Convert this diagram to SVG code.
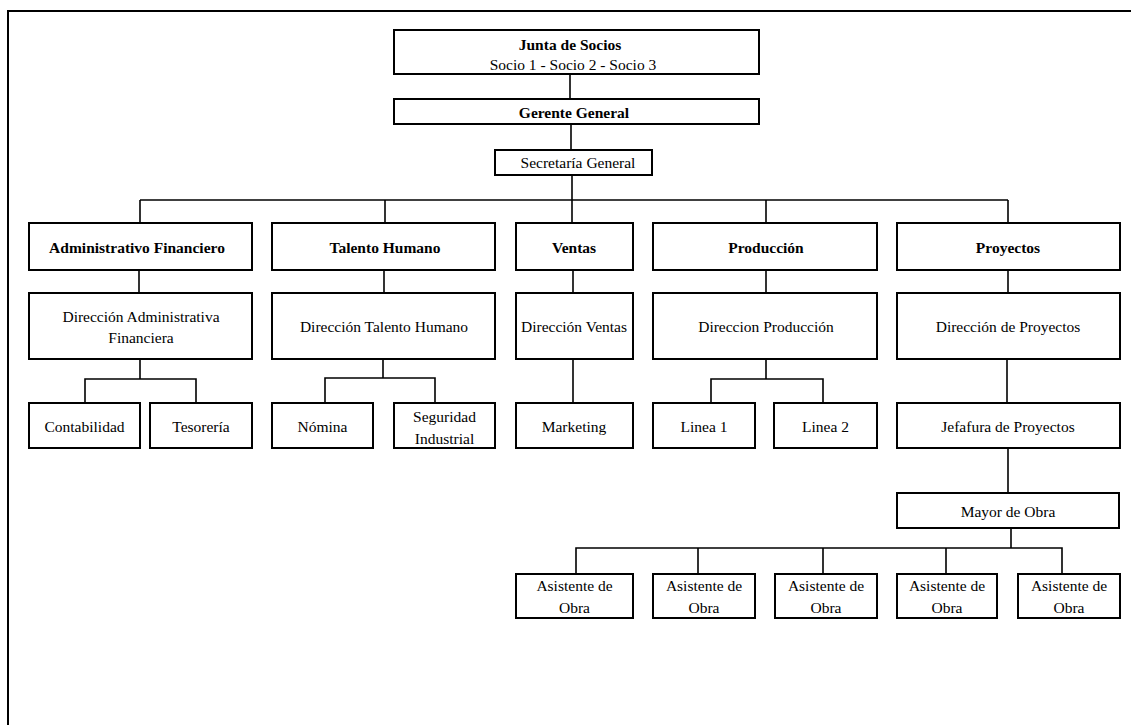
<svg xmlns="http://www.w3.org/2000/svg" width="1131" height="725" viewBox="0 0 1131 725">
<style>
.box{fill:#fff;stroke:#000;stroke-width:2}
.t{font-family:"Liberation Serif","Times New Roman",serif;font-size:15.5px;text-anchor:middle;fill:#000}
.b{font-weight:bold}
.c{fill:none;stroke:#000;stroke-width:1.6}
.frame{fill:none;stroke:#000;stroke-width:2}
</style>
<rect width="1131" height="725" fill="#fff"/>
<rect class="frame" x="8" y="11" width="1200" height="800"/>
<g id="connectors">
<path class="c" d="M570,74V99"/>
<path class="c" d="M571,124V150"/>
<path class="c" d="M572,175V200"/>
<path class="c" d="M140,200H1008"/>
<path class="c" d="M140,200V223"/>
<path class="c" d="M385,200V223"/>
<path class="c" d="M572,200V223"/>
<path class="c" d="M766,200V223"/>
<path class="c" d="M1008,200V223"/>
<path class="c" d="M139,270V293"/>
<path class="c" d="M384,270V293"/>
<path class="c" d="M573,270V293"/>
<path class="c" d="M766,270V293"/>
<path class="c" d="M1008,270V293"/>
<path class="c" d="M140,359V379M85,403V379H196V403"/>
<path class="c" d="M383,359V378M325,403V378H435V403"/>
<path class="c" d="M573,359V403"/>
<path class="c" d="M766,359V379M711,403V379H823V403"/>
<path class="c" d="M1007,359V403"/>
<path class="c" d="M1008,448V493"/>
<path class="c" d="M1011,528V548"/>
<path class="c" d="M576,574V548H1062V574M698,548V574M823,548V574M946,548V574"/>
</g>
<g id="junta"><rect class="box" x="394" y="30" width="365" height="44"/><text class="t b" x="570" y="49.5">Junta de Socios</text><text class="t" x="573" y="69.5">Socio 1 - Socio 2 - Socio 3</text></g>
<g id="gerente"><rect class="box" x="394" y="99" width="365" height="25"/><text class="t b" x="574" y="118">Gerente General</text></g>
<g id="secretaria"><rect class="box" x="495" y="150" width="157" height="25"/><text class="t" x="578" y="168">Secretaría General</text></g>
<g id="admin"><rect class="box" x="29" y="223" width="223" height="47"/><text class="t b" x="137" y="252.5">Administrativo Financiero</text></g>
<g id="talento"><rect class="box" x="272" y="223" width="223" height="47"/><text class="t b" x="385" y="252.5">Talento Humano</text></g>
<g id="ventas"><rect class="box" x="516" y="223" width="117" height="47"/><text class="t b" x="574" y="252.5">Ventas</text></g>
<g id="produccion"><rect class="box" x="653" y="223" width="224" height="47"/><text class="t b" x="766" y="252.5">Producción</text></g>
<g id="proyectos"><rect class="box" x="897" y="223" width="223" height="47"/><text class="t b" x="1008" y="252.5">Proyectos</text></g>
<g id="dir-admin"><rect class="box" x="29" y="293" width="223" height="66"/><text class="t" x="141" y="321.5">Dirección Administrativa</text><text class="t" x="141" y="343">Financiera</text></g>
<g id="dir-talento"><rect class="box" x="272" y="293" width="223" height="66"/><text class="t" x="384" y="331.5">Dirección Talento Humano</text></g>
<g id="dir-ventas"><rect class="box" x="516" y="293" width="117" height="66"/><text class="t" x="574" y="331.5">Dirección Ventas</text></g>
<g id="dir-produccion"><rect class="box" x="653" y="293" width="224" height="66"/><text class="t" x="766" y="331.5">Direccion Producción</text></g>
<g id="dir-proyectos"><rect class="box" x="897" y="293" width="223" height="66"/><text class="t" x="1008" y="331.5">Dirección de Proyectos</text></g>
<g id="contabilidad"><rect class="box" x="29" y="403" width="111" height="45"/><text class="t" x="84.5" y="432">Contabilidad</text></g>
<g id="tesoreria"><rect class="box" x="150" y="403" width="102" height="45"/><text class="t" x="201" y="432">Tesorería</text></g>
<g id="nomina"><rect class="box" x="272" y="403" width="101" height="45"/><text class="t" x="322.5" y="432">Nómina</text></g>
<g id="seguridad"><rect class="box" x="394" y="403" width="101" height="45"/><text class="t" x="444.5" y="422">Seguridad</text><text class="t" x="444.5" y="444">Industrial</text></g>
<g id="marketing"><rect class="box" x="516" y="403" width="117" height="45"/><text class="t" x="574" y="432">Marketing</text></g>
<g id="linea1"><rect class="box" x="653" y="403" width="102" height="45"/><text class="t" x="704" y="432">Linea 1</text></g>
<g id="linea2"><rect class="box" x="774" y="403" width="103" height="45"/><text class="t" x="825.5" y="432">Linea 2</text></g>
<g id="jefatura"><rect class="box" x="897" y="403" width="223" height="45"/><text class="t" x="1008" y="432">Jefafura de Proyectos</text></g>
<g id="mayor"><rect class="box" x="897" y="493" width="222" height="35"/><text class="t" x="1008" y="516.5">Mayor de Obra</text></g>
<g id="asist1"><rect class="box" x="516" y="574" width="117" height="44"/><text class="t" x="574.5" y="590.5">Asistente de</text><text class="t" x="574.5" y="612.5">Obra</text></g>
<g id="asist2"><rect class="box" x="653" y="574" width="102" height="44"/><text class="t" x="704" y="590.5">Asistente de</text><text class="t" x="704" y="612.5">Obra</text></g>
<g id="asist3"><rect class="box" x="775" y="574" width="102" height="44"/><text class="t" x="826" y="590.5">Asistente de</text><text class="t" x="826" y="612.5">Obra</text></g>
<g id="asist4"><rect class="box" x="897" y="574" width="100" height="44"/><text class="t" x="947" y="590.5">Asistente de</text><text class="t" x="947" y="612.5">Obra</text></g>
<g id="asist5"><rect class="box" x="1018" y="574" width="102" height="44"/><text class="t" x="1069" y="590.5">Asistente de</text><text class="t" x="1069" y="612.5">Obra</text></g>
</svg>
